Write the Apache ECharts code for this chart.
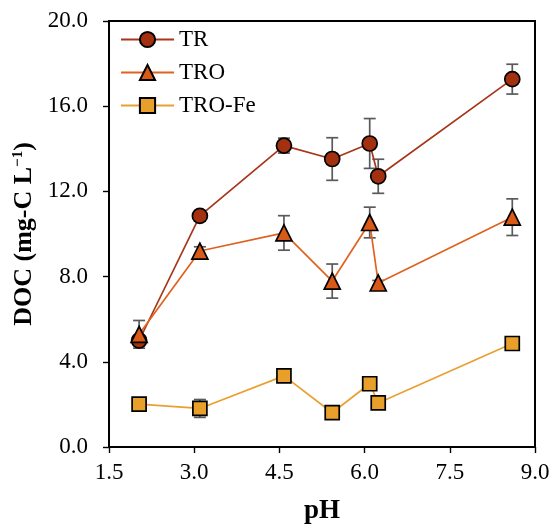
<!DOCTYPE html>
<html>
<head>
<meta charset="utf-8">
<script src="https://cdn.jsdelivr.net/npm/echarts@6/dist/echarts.min.js"></script>
<style>
  html, body { margin: 0; padding: 0; background: #fff; }
  #chart { width: 552px; height: 524px; }
</style>
</head>
<body>
<div id="chart"></div>
<script>
// pH values of the samples
const pH = [2.03, 3.10, 4.58, 5.43, 6.09, 6.24, 8.60];
// DOC (mg-C/L) means and standard deviations
const tr = [5.0, 10.85, 14.15, 13.52, 14.25, 12.71, 17.27];
const trErr = [0.2, 0.25, 0.35, 1.0, 1.17, 0.8, 0.7];
const tro = [5.29, 9.2, 10.05, 7.79, 10.54, 7.7, 10.79];
const troErr = [0.65, 0.2, 0.81, 0.8, 0.72, 0.12, 0.86];
const troFe = [2.01, 1.81, 3.34, 1.61, 2.97, 2.07, 4.86];
const troFeErr = [0.25, 0.42, 0.2, 0.3, 0.15, 0.15, 0.3];

const FONT = '"Liberation Serif", "Times New Roman", serif';

const chart = echarts.init(document.getElementById('chart'));

function pairs(ys) { return pH.map((x, i) => [x, ys[i]]); }
function errData(ys, es) { return pH.map((x, i) => [x, ys[i], es[i]]); }

// vertical error bar with caps
function errorBarSeries(ys, es) {
  return {
    type: 'custom',
    z: 1,
    silent: true,
    data: errData(ys, es),
    encode: { x: 0, y: 1 },
    renderItem: function (params, api) {
      const x = api.value(0), y = api.value(1), e = api.value(2);
      const top = api.coord([x, y + e]);
      const bot = api.coord([x, y - e]);
      const w = 6;
      const style = { stroke: '#5a5a5a', lineWidth: 1.7 };
      return {
        type: 'group',
        children: [
          { type: 'line', shape: { x1: top[0], y1: top[1], x2: bot[0], y2: bot[1] }, style },
          { type: 'line', shape: { x1: top[0] - w, y1: top[1], x2: top[0] + w, y2: top[1] }, style },
          { type: 'line', shape: { x1: bot[0] - w, y1: bot[1], x2: bot[0] + w, y2: bot[1] }, style }
        ]
      };
    }
  };
}

function lineSeries(name, ys, symbol, size, lineColor, fillColor) {
  return {
    name: name,
    type: 'line',
    z: 3,
    data: pairs(ys),
    symbol: symbol,
    symbolSize: size,
    showAllSymbol: true,
    lineStyle: { color: lineColor, width: 1.7 },
    itemStyle: { color: fillColor, borderColor: '#000', borderWidth: 1.7 }
  };
}

chart.setOption({
  animation: false,
  grid: {
    left: 109, right: 17, top: 21, bottom: 77,
    outerBoundsMode: 'none', containLabel: false,
    show: true, borderColor: '#000', borderWidth: 2, backgroundColor: 'transparent'
  },
  legend: {
    orient: 'vertical',
    left: 115, top: 23,
    itemWidth: 53, itemHeight: 19, itemGap: 10,
    data: ['TR', 'TRO', 'TRO-Fe'],
    textStyle: { fontFamily: FONT, fontSize: 23, lineHeight: 23, color: '#000' }
  },
  xAxis: {
    type: 'value',
    min: 1.5, max: 9.0, interval: 1.5,
    name: 'pH', nameLocation: 'middle', nameGap: 51,
    nameTextStyle: { fontFamily: FONT, fontSize: 27, fontWeight: 'bold', color: '#000' },
    axisLine: { show: true, lineStyle: { color: '#000', width: 2 } },
    axisTick: { show: true, length: 6, lineStyle: { color: '#000', width: 1.4 } },
    axisLabel: { fontFamily: FONT, fontSize: 23, color: '#000', margin: 14,
      formatter: v => v.toFixed(1) },
    splitLine: { show: false }
  },
  yAxis: {
    type: 'value',
    min: 0, max: 20, interval: 4,
    name: 'DOC (mg-C L{sup|−1})', nameLocation: 'middle', nameGap: 68, nameRotate: 90,
    nameTextStyle: { fontFamily: FONT, fontSize: 26, fontWeight: 'bold', color: '#000',
      rich: { sup: { fontFamily: FONT, fontSize: 15, fontWeight: 'bold', color: '#000', padding: [0, 0, 11, 0] } } },
    axisLine: { show: true, lineStyle: { color: '#000', width: 2 } },
    axisTick: { show: true, length: 6, lineStyle: { color: '#000', width: 1.4 } },
    axisLabel: { fontFamily: FONT, fontSize: 23, color: '#000', margin: 21,
      formatter: v => v.toFixed(1) },
    splitLine: { show: false }
  },
  series: [
    errorBarSeries(tr, trErr),
    errorBarSeries(tro, troErr),
    errorBarSeries(troFe, troFeErr),
    lineSeries('TR', tr, 'circle', 15, '#a8361a', '#a3300e'),
    lineSeries('TRO', tro, 'triangle', 16, '#e0621f', '#d95a18'),
    lineSeries('TRO-Fe', troFe, 'rect', 14, '#e9a030', '#e8a02a')
  ]
});
</script>
</body>
</html>
